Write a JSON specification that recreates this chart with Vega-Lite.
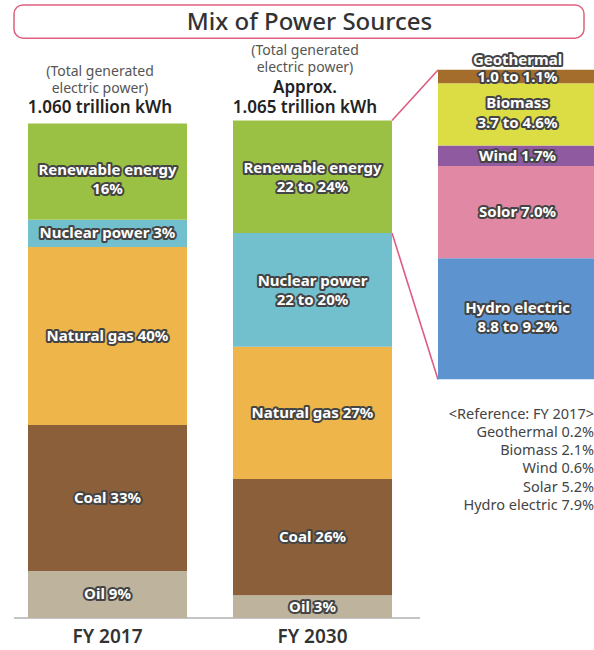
{
  "$schema": "https://vega.github.io/schema/vega-lite/v6.json",
  "width": 594,
  "height": 650,
  "autosize": {"type": "fit", "contains": "padding"},
  "padding": 0,
  "background": "white",
  "config": {"view": {"stroke": null}, "font": "Noto Sans"},
  "layer": [
    {
      "layer": [
        {
          "data": {"values": [{}]},
          "mark": {"type": "rect", "fill": "white", "stroke": "#E0607F", "strokeWidth": 1.5, "cornerRadius": 9, "xOffset": -14, "x2Offset": -13},
          "encoding": {
            "x": {"datum": "FY 2017", "type": "nominal", "bandPosition": 0, "scale": {"domain": ["FY 2017", "FY 2030", "Breakdown"], "range": [28, 597], "paddingInner": 0.22439, "paddingOuter": 0}, "axis": null},
            "x2": {"datum": "Breakdown", "bandPosition": 1},
            "y": {"datum": 123.6, "type": "quantitative", "scale": {"domain": [-6.452, 124.597], "nice": false, "zero": false}, "axis": null},
            "y2": {"datum": 116.9}
          }
        },
        {
          "data": {"values": [{"title": "Mix of Power Sources"}]},
          "mark": {"type": "text", "fontSize": 24, "fontWeight": 500, "fill": "#333333", "baseline": "middle", "align": "center", "dx": -3},
          "encoding": {
            "x": {"datum": "FY 2030", "type": "nominal"},
            "y": {"datum": 120.0, "type": "quantitative"},
            "text": {"field": "title"}
          }
        },
        {
          "data": {"values": [
            {"year": "FY 2017", "kind": "note", "line": "(Total generated", "at": 110.0},
            {"year": "FY 2017", "kind": "note", "line": "electric power)", "at": 106.7},
            {"year": "FY 2017", "kind": "total", "line": "1.060 trillion kWh", "at": 102.9},
            {"year": "FY 2030", "kind": "note", "line": "(Total generated", "at": 114.3},
            {"year": "FY 2030", "kind": "note", "line": "electric power)", "at": 110.8},
            {"year": "FY 2030", "kind": "total", "line": "Approx.", "at": 106.9},
            {"year": "FY 2030", "kind": "total", "line": "1.065 trillion kWh", "at": 102.9}
          ]},
          "layer": [
            {
              "transform": [{"filter": "datum.kind == 'note'"}],
              "mark": {"type": "text", "fontSize": 14, "fill": "#555555", "baseline": "middle", "align": "center", "dx": -7.5},
              "encoding": {
                "x": {"field": "year", "type": "nominal"},
                "y": {"field": "at", "type": "quantitative"},
                "text": {"field": "line"}
              }
            },
            {
              "transform": [{"filter": "datum.kind == 'total'"}],
              "mark": {"type": "text", "fontSize": 17, "fontWeight": 600, "fill": "#222222", "baseline": "middle", "align": "center", "dx": -7.5},
              "encoding": {
                "x": {"field": "year", "type": "nominal"},
                "y": {"field": "at", "type": "quantitative"},
                "text": {"field": "line"}
              }
            }
          ]
        },
        {
          "data": {"values": [{}]},
          "mark": {"type": "rule", "stroke": "#8a8a8a", "strokeWidth": 1.2, "xOffset": -14, "x2Offset": 28},
          "encoding": {
            "x": {"datum": "FY 2017", "type": "nominal", "bandPosition": 0},
            "x2": {"datum": "FY 2030", "bandPosition": 1},
            "y": {"datum": 0, "type": "quantitative"}
          }
        },
        {
          "data": {"values": [{}]},
          "mark": {"type": "rule", "stroke": "#DD5C80", "strokeWidth": 1.6},
          "encoding": {
            "x": {"datum": "FY 2030", "type": "nominal", "bandPosition": 1},
            "x2": {"datum": "Breakdown", "bandPosition": 0},
            "y": {"datum": 100.3, "type": "quantitative"},
            "y2": {"datum": 110.5}
          }
        },
        {
          "data": {"values": [{}]},
          "mark": {"type": "rule", "stroke": "#DD5C80", "strokeWidth": 1.6},
          "encoding": {
            "x": {"datum": "FY 2030", "type": "nominal", "bandPosition": 1},
            "x2": {"datum": "Breakdown", "bandPosition": 0},
            "y": {"datum": 77.6, "type": "quantitative"},
            "y2": {"datum": 48.1}
          }
        },
        {
          "data": {"values": [
            {"year": "FY 2017", "source": "Oil", "height": 9.5, "order": 1, "lines": 1, "label": "Oil 9%"},
            {"year": "FY 2017", "source": "Coal", "height": 29.4, "order": 2, "lines": 1, "label": "Coal 33%"},
            {"year": "FY 2017", "source": "Natural gas", "height": 35.9, "order": 3, "lines": 1, "label": "Natural gas 40%"},
            {"year": "FY 2017", "source": "Nuclear power", "height": 5.5, "order": 4, "lines": 1, "label": "Nuclear power 3%"},
            {"year": "FY 2017", "source": "Renewable energy", "height": 19.4, "order": 5, "lines": 2, "label": "Renewable energy\n16%"},
            {"year": "FY 2030", "source": "Oil", "height": 4.6, "order": 1, "lines": 1, "label": "Oil 3%"},
            {"year": "FY 2030", "source": "Coal", "height": 23.4, "order": 2, "lines": 1, "label": "Coal 26%"},
            {"year": "FY 2030", "source": "Natural gas", "height": 26.7, "order": 3, "lines": 1, "label": "Natural gas 27%"},
            {"year": "FY 2030", "source": "Nuclear power", "height": 22.9, "order": 4, "lines": 2, "label": "Nuclear power\n22 to 20%"},
            {"year": "FY 2030", "source": "Renewable energy", "height": 22.7, "order": 5, "lines": 2, "label": "Renewable energy\n22 to 24%"}
          ]},
          "transform": [
            {"stack": "height", "groupby": ["year"], "sort": [{"field": "order", "order": "ascending"}], "as": ["lo", "hi"]},
            {"calculate": "(datum.lo + datum.hi) / 2", "as": "mid"}
          ],
          "layer": [
            {
              "mark": {"type": "bar"},
              "encoding": {
                "x": {"field": "year", "type": "nominal"},
                "y": {"field": "lo", "type": "quantitative"},
                "y2": {"field": "hi"},
                "color": {"field": "source", "type": "nominal", "legend": null, "scale": {"domain": ["Renewable energy", "Nuclear power", "Natural gas", "Coal", "Oil"], "range": ["#9BC144", "#72BFCD", "#EEB54A", "#8A5F3A", "#BEB39C"]}}
              }
            },
            {
              "transform": [{"filter": "datum.lines == 1"}],
              "mark": {"type": "text", "fontSize": 15, "fontWeight": "bold", "fill": "#444444", "stroke": "#444444", "strokeWidth": 4, "strokeJoin": "round", "baseline": "middle", "align": "center"},
              "encoding": {"x": {"field": "year", "type": "nominal"}, "y": {"field": "mid", "type": "quantitative"}, "text": {"field": "label"}}
            },
            {
              "transform": [{"filter": "datum.lines == 1"}],
              "mark": {"type": "text", "fontSize": 15, "fontWeight": "bold", "fill": "#ffffff", "baseline": "middle", "align": "center"},
              "encoding": {"x": {"field": "year", "type": "nominal"}, "y": {"field": "mid", "type": "quantitative"}, "text": {"field": "label"}}
            },
            {
              "transform": [{"filter": "datum.lines == 2 && datum.year == 'FY 2030'"}],
              "mark": {"type": "text", "fontSize": 15, "fontWeight": "bold", "lineBreak": "\n", "lineHeight": 19, "fill": "#444444", "stroke": "#444444", "strokeWidth": 4, "strokeJoin": "round", "baseline": "middle", "align": "center", "dy": -9},
              "encoding": {"x": {"field": "year", "type": "nominal"}, "y": {"field": "mid", "type": "quantitative"}, "text": {"field": "label"}}
            },
            {
              "transform": [{"filter": "datum.lines == 2 && datum.year == 'FY 2030'"}],
              "mark": {"type": "text", "fontSize": 15, "fontWeight": "bold", "lineBreak": "\n", "lineHeight": 19, "fill": "#ffffff", "baseline": "middle", "align": "center", "dy": -9},
              "encoding": {"x": {"field": "year", "type": "nominal"}, "y": {"field": "mid", "type": "quantitative"}, "text": {"field": "label"}}
            },
            {
              "transform": [{"filter": "datum.lines == 2 && datum.year == 'FY 2017'"}],
              "mark": {"type": "text", "fontSize": 15, "fontWeight": "bold", "lineBreak": "\n", "lineHeight": 19.5, "fill": "#444444", "stroke": "#444444", "strokeWidth": 4, "strokeJoin": "round", "baseline": "middle", "align": "center", "dy": -2},
              "encoding": {"x": {"field": "year", "type": "nominal"}, "y": {"field": "mid", "type": "quantitative"}, "text": {"field": "label"}}
            },
            {
              "transform": [{"filter": "datum.lines == 2 && datum.year == 'FY 2017'"}],
              "mark": {"type": "text", "fontSize": 15, "fontWeight": "bold", "lineBreak": "\n", "lineHeight": 19.5, "fill": "#ffffff", "baseline": "middle", "align": "center", "dy": -2},
              "encoding": {"x": {"field": "year", "type": "nominal"}, "y": {"field": "mid", "type": "quantitative"}, "text": {"field": "label"}}
            }
          ]
        },
        {
          "data": {"values": [{"year": "FY 2017"}, {"year": "FY 2030"}]},
          "mark": {"type": "text", "fontSize": 19, "fontWeight": 600, "fill": "#333333", "baseline": "middle", "align": "center"},
          "encoding": {
            "x": {"field": "year", "type": "nominal"},
            "y": {"datum": -3.8, "type": "quantitative"},
            "text": {"field": "year"}
          }
        },
        {
          "data": {"values": [{"note": "<Reference: FY 2017>\nGeothermal 0.2%\nBiomass 2.1%\nWind 0.6%\nSolar 5.2%\nHydro electric 7.9%"}]},
          "mark": {"type": "text", "fontSize": 14.5, "fill": "#444444", "lineBreak": "\n", "lineHeight": 18.1, "baseline": "middle", "align": "right", "dx": -3},
          "encoding": {
            "x": {"datum": "Breakdown", "type": "nominal", "bandPosition": 1},
            "y": {"datum": 40.9, "type": "quantitative"},
            "text": {"field": "note"}
          }
        }
      ]
    },
    {
      "data": {"values": [
        {"year": "Breakdown", "source": "Hydro electric", "height": 9.17, "order": 1, "lines": 2, "label": "Hydro electric\n8.8 to 9.2%"},
        {"year": "Breakdown", "source": "Solar", "height": 6.99, "order": 2, "lines": 1, "label": "Solor 7.0%"},
        {"year": "Breakdown", "source": "Wind", "height": 1.54, "order": 3, "lines": 1, "label": "Wind 1.7%"},
        {"year": "Breakdown", "source": "Biomass", "height": 4.73, "order": 4, "lines": 2, "label": "Biomass\n3.7 to 4.6%"},
        {"year": "Breakdown", "source": "Geothermal", "height": 1.01, "order": 5, "lines": 2, "label": "Geothermal\n1.0 to 1.1%"}
      ]},
      "transform": [
        {"stack": "height", "groupby": ["year"], "sort": [{"field": "order", "order": "ascending"}], "as": ["lo", "hi"]},
        {"calculate": "(datum.lo + datum.hi) / 2", "as": "mid"}
      ],
      "layer": [
        {
          "mark": {"type": "bar"},
          "encoding": {
            "x": {"field": "year", "type": "nominal", "scale": {"domain": ["FY 2017", "FY 2030", "Breakdown"], "range": [28, 597], "paddingInner": 0.22439, "paddingOuter": 0}, "axis": null},
            "y": {"field": "lo", "type": "quantitative", "scale": {"domain": [-20.51, 28.73], "nice": false, "zero": false}, "axis": null},
            "y2": {"field": "hi"},
            "color": {"field": "source", "type": "nominal", "legend": null, "scale": {"domain": ["Geothermal", "Biomass", "Wind", "Solar", "Hydro electric"], "range": ["#A46D2B", "#DCDD45", "#8F5AA0", "#E088A4", "#5D93CF"]}}
          }
        },
        {
          "transform": [{"filter": "datum.lines == 1"}],
          "mark": {"type": "text", "fontSize": 15, "fontWeight": "bold", "fill": "#444444", "stroke": "#444444", "strokeWidth": 4, "strokeJoin": "round", "baseline": "middle", "align": "center"},
          "encoding": {"x": {"field": "year", "type": "nominal"}, "y": {"field": "mid", "type": "quantitative"}, "text": {"field": "label"}}
        },
        {
          "transform": [{"filter": "datum.lines == 1"}],
          "mark": {"type": "text", "fontSize": 15, "fontWeight": "bold", "fill": "#ffffff", "baseline": "middle", "align": "center"},
          "encoding": {"x": {"field": "year", "type": "nominal"}, "y": {"field": "mid", "type": "quantitative"}, "text": {"field": "label"}}
        },
        {
          "transform": [{"filter": "datum.lines == 2 && datum.source != 'Geothermal'"}],
          "mark": {"type": "text", "fontSize": 15, "fontWeight": "bold", "lineBreak": "\n", "lineHeight": 19.5, "fill": "#444444", "stroke": "#444444", "strokeWidth": 4, "strokeJoin": "round", "baseline": "middle", "align": "center", "dy": -11},
          "encoding": {"x": {"field": "year", "type": "nominal"}, "y": {"field": "mid", "type": "quantitative"}, "text": {"field": "label"}}
        },
        {
          "transform": [{"filter": "datum.lines == 2 && datum.source != 'Geothermal'"}],
          "mark": {"type": "text", "fontSize": 15, "fontWeight": "bold", "lineBreak": "\n", "lineHeight": 19.5, "fill": "#ffffff", "baseline": "middle", "align": "center", "dy": -11},
          "encoding": {"x": {"field": "year", "type": "nominal"}, "y": {"field": "mid", "type": "quantitative"}, "text": {"field": "label"}}
        },
        {
          "transform": [{"filter": "datum.source == 'Geothermal'"}],
          "mark": {"type": "text", "fontSize": 15, "fontWeight": "bold", "lineBreak": "\n", "lineHeight": 17.3, "fill": "#444444", "stroke": "#444444", "strokeWidth": 4, "strokeJoin": "round", "baseline": "middle", "align": "center", "dy": -16.5},
          "encoding": {"x": {"field": "year", "type": "nominal"}, "y": {"field": "mid", "type": "quantitative"}, "text": {"field": "label"}}
        },
        {
          "transform": [{"filter": "datum.source == 'Geothermal'"}],
          "mark": {"type": "text", "fontSize": 15, "fontWeight": "bold", "lineBreak": "\n", "lineHeight": 17.3, "fill": "#ffffff", "baseline": "middle", "align": "center", "dy": -16.5},
          "encoding": {"x": {"field": "year", "type": "nominal"}, "y": {"field": "mid", "type": "quantitative"}, "text": {"field": "label"}}
        }
      ]
    }
  ],
  "resolve": {"scale": {"y": "independent", "color": "independent"}}
}
